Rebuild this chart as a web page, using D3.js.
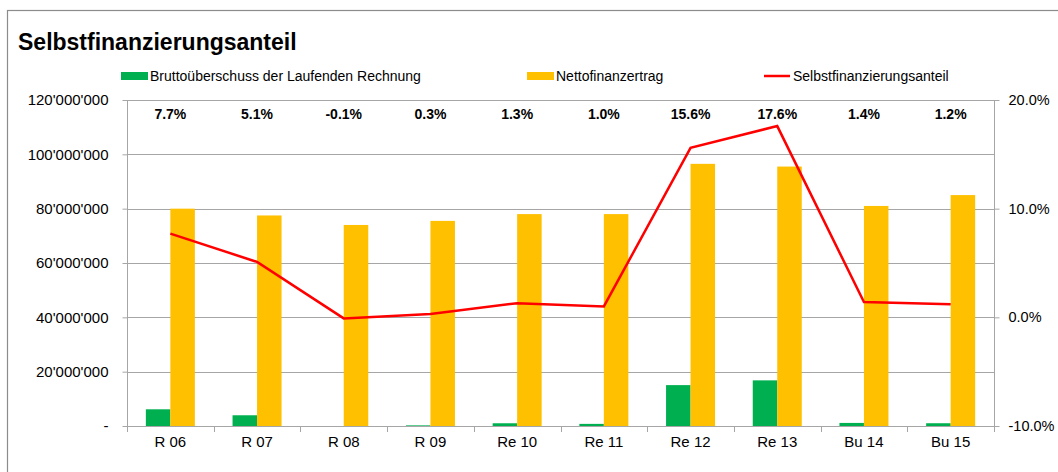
<!DOCTYPE html>
<html>
<head>
<meta charset="utf-8">
<script src="https://cdn.jsdelivr.net/npm/d3@7"></script>
<style>
  body { margin: 0; background: #fff; }
  text { font-family: "Liberation Sans", Arial, sans-serif; fill: #000; }
</style>
</head>
<body>
<div id="chart"></div>
<script>
// data
const categories = ["R 06", "R 07", "R 08", "R 09", "Re 10", "Re 11", "Re 12", "Re 13", "Bu 14", "Bu 15"];
const brutto = [6150000, 3950000, -70000, 230000, 1010000, 780000, 15050000, 16800000, 1130000, 1020000];
const netto = [80000000, 77500000, 74000000, 75500000, 78000000, 78000000, 96500000, 95500000, 81000000, 85000000];
const anteil = [7.7, 5.1, -0.1, 0.3, 1.3, 1.0, 15.6, 17.6, 1.4, 1.2];
const leftTicks = [0, 20000000, 40000000, 60000000, 80000000, 100000000, 120000000];
const rightTicks = [-10, 0, 10, 20];
const seriesNames = ["Bruttoüberschuss der Laufenden Rechnung", "Nettofinanzertrag", "Selbstfinanzierungsanteil"];

const W = 1058, H = 472;
const pLeft = 127, pRight = 994, pTop = 100, pBottom = 426;

const svg = d3.select("#chart").append("svg").attr("width", W).attr("height", H);

// outer frame
svg.append("rect").attr("x", 7.5).attr("y", 10.5).attr("width", W + 10).attr("height", H + 10)
  .attr("fill", "none").attr("stroke", "#8c8c8c").attr("stroke-width", 1.2);

svg.append("text").attr("x", 18).attr("y", 50)
  .style("font-size", "23px").style("font-weight", "bold").text("Selbstfinanzierungsanteil");

const x = d3.scaleBand().domain(categories).range([pLeft, pRight]).padding(0);
const yL = d3.scaleLinear().domain([0, 120000000]).range([pBottom, pTop]);
const yR = d3.scaleLinear().domain([-10, 20]).range([pBottom, pTop]);

const fmt = v => v === 0 ? "-" : d3.format(",")(v).replace(/,/g, "'");

// gridlines
svg.append("g").selectAll("line").data(leftTicks.slice(1)).join("line")
  .attr("x1", pLeft).attr("x2", pRight)
  .attr("y1", d => Math.round(yL(d)) + 0.5).attr("y2", d => Math.round(yL(d)) + 0.5)
  .attr("stroke", "#a6a6a6");

// left axis
const gL = svg.append("g").attr("transform", `translate(${pLeft + 0.5},0)`)
  .call(d3.axisLeft(yL).tickValues(leftTicks).tickFormat(fmt).tickSize(5).tickPadding(14));
gL.select(".domain").attr("stroke", "#a6a6a6").attr("d", `M0,${pTop}V${pBottom + 6}`);
gL.selectAll(".tick line").attr("stroke", "#a6a6a6");
gL.selectAll("text").style("font-size", "15px").style("font-family", "Liberation Sans, Arial, sans-serif");

// right axis
const gR = svg.append("g").attr("transform", `translate(${pRight + 0.5},0)`)
  .call(d3.axisRight(yR).tickValues(rightTicks).tickFormat(d => d.toFixed(1) + "%").tickSize(5).tickPadding(9));
gR.select(".domain").attr("stroke", "#a6a6a6").attr("d", `M0,${pTop}V${pBottom + 6}`);
gR.selectAll(".tick line").attr("stroke", "#a6a6a6");
gR.selectAll("text").style("font-size", "14.5px").style("font-family", "Liberation Sans, Arial, sans-serif");

// bars
const bw = 24.5;
const bars = svg.append("g");
bars.selectAll(".g").data(categories).join("rect")
  .attr("x", (c) => x(c) + x.bandwidth() / 2 - bw)
  .attr("y", (c, i) => yL(Math.max(0, brutto[i])))
  .attr("height", (c, i) => Math.max(1, Math.abs(yL(brutto[i]) - yL(0))))
  .attr("width", bw).attr("fill", "#00b050");
bars.selectAll(".n").data(categories).join("rect")
  .attr("x", (c) => x(c) + x.bandwidth() / 2)
  .attr("y", (c, i) => yL(netto[i]))
  .attr("height", (c, i) => yL(0) - yL(netto[i]))
  .attr("width", bw).attr("fill", "#ffc000");

// x axis
const gX = svg.append("g").attr("transform", `translate(0,${pBottom + 0.5})`)
  .call(d3.axisBottom(x).tickSize(0).tickPadding(10));
gX.select(".domain").attr("stroke", "#a6a6a6").attr("d", `M${pLeft},0H${pRight}`);
gX.selectAll("text").style("font-size", "15px").style("font-family", "Liberation Sans, Arial, sans-serif");
svg.append("g").selectAll("line").data(categories.concat(["end"])).join("line")
  .attr("x1", (c, i) => Math.round(pLeft + i * x.bandwidth()) + 0.5)
  .attr("x2", (c, i) => Math.round(pLeft + i * x.bandwidth()) + 0.5)
  .attr("y1", pBottom).attr("y2", pBottom + 6).attr("stroke", "#a6a6a6");

// line
const line = d3.line().x((d, i) => x(categories[i]) + x.bandwidth() / 2).y(d => yR(d));
svg.append("path").datum(anteil).attr("d", line)
  .attr("fill", "none").attr("stroke", "#ff0000").attr("stroke-width", 2.5);

// value labels
svg.append("g").selectAll("text").data(anteil).join("text")
  .attr("x", (d, i) => x(categories[i]) + x.bandwidth() / 2)
  .attr("y", 119).attr("text-anchor", "middle")
  .style("font-size", "14px").style("font-weight", "bold")
  .text(d => d.toFixed(1) + "%");

// legend
const leg = svg.append("g");
const legX = [121, 527, 764];
leg.append("rect").attr("x", legX[0]).attr("y", 72).attr("width", 27).attr("height", 8).attr("fill", "#00b050");
leg.append("rect").attr("x", legX[1]).attr("y", 72).attr("width", 27).attr("height", 8).attr("fill", "#ffc000");
leg.append("line").attr("x1", legX[2]).attr("x2", legX[2] + 26).attr("y1", 76).attr("y2", 76)
  .attr("stroke", "#ff0000").attr("stroke-width", 2.5);
leg.selectAll("text").data(seriesNames).join("text")
  .attr("x", (d, i) => legX[i] + 29).attr("y", 81)
  .style("font-size", "14px").text(d => d);
</script>
</body>
</html>
